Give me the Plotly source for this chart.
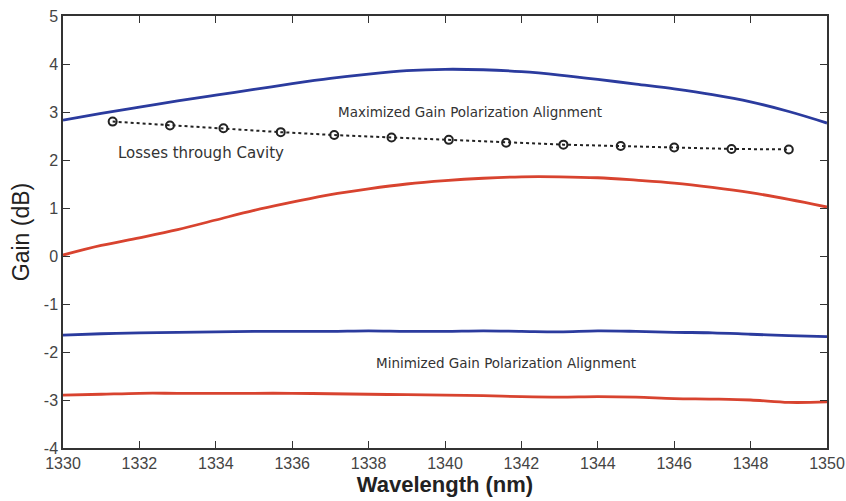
import plotly.graph_objects as go

wl = [1330, 1331, 1332, 1333, 1334, 1335, 1336, 1337, 1338, 1339, 1340,
      1341, 1342, 1343, 1344, 1345, 1346, 1347, 1348, 1349, 1350]

max_blue = [2.83, 2.97, 3.10, 3.23, 3.35, 3.47, 3.59, 3.70, 3.79, 3.86, 3.89,
            3.88, 3.84, 3.77, 3.68, 3.58, 3.48, 3.36, 3.21, 3.01, 2.77]
max_red = [0.02, 0.22, 0.38, 0.55, 0.75, 0.95, 1.12, 1.28, 1.40, 1.50, 1.57,
           1.62, 1.65, 1.65, 1.63, 1.58, 1.52, 1.43, 1.32, 1.18, 1.02]
min_blue = [-1.65, -1.62, -1.60, -1.59, -1.58, -1.57, -1.57, -1.57, -1.56, -1.57, -1.57,
            -1.56, -1.57, -1.58, -1.56, -1.57, -1.59, -1.60, -1.63, -1.66, -1.68]
min_red = [-2.90, -2.88, -2.86, -2.86, -2.86, -2.86, -2.86, -2.87, -2.88, -2.89, -2.90,
           -2.91, -2.93, -2.94, -2.93, -2.94, -2.97, -2.98, -3.00, -3.05, -3.04]

loss_wl = [1331.3, 1332.8, 1334.2, 1335.7, 1337.1, 1338.6, 1340.1,
           1341.6, 1343.1, 1344.6, 1346.0, 1347.5, 1349.0]
loss_gain = [2.80, 2.72, 2.66, 2.58, 2.52, 2.47, 2.42,
             2.36, 2.32, 2.29, 2.26, 2.23, 2.22]

x_ticks = list(range(1330, 1351, 2))
y_ticks = list(range(-4, 6))
y_tick_text = [str(v).replace("−", "-") for v in y_ticks]

BLUE = "#2b3b9e"
RED = "#d8432f"

fig = go.Figure()
for y, c in [(max_blue, BLUE), (max_red, RED), (min_blue, BLUE), (min_red, RED)]:
    fig.add_trace(go.Scatter(x=wl, y=y, mode="lines", line=dict(color=c, width=2.8, shape="spline"),
                             showlegend=False, hoverinfo="skip"))
fig.add_trace(go.Scatter(x=loss_wl, y=loss_gain, mode="lines+markers",
                         line=dict(color="#222222", width=2, dash="dot"),
                         marker=dict(symbol="circle-open", size=8, color="#222222", line=dict(width=2)),
                         showlegend=False))

ann_font = dict(family="DejaVu Sans, sans-serif", size=13.5, color="#333333")
fig.add_annotation(x=1340.65, y=3.0, text="Maximized Gain Polarization Alignment",
                   showarrow=False, font=ann_font)
fig.add_annotation(x=1333.6, y=2.15, text="Losses through Cavity",
                   showarrow=False, font=dict(family="DejaVu Sans, sans-serif", size=15, color="#333333"))
fig.add_annotation(x=1341.6, y=-2.23, text="Minimized Gain Polarization Alignment",
                   showarrow=False, font=ann_font)

axis_common = dict(showgrid=False, zeroline=False, showline=True, linecolor="#333333", linewidth=1.5,
                   mirror="ticks", ticks="inside", ticklen=7, tickcolor="#333333", automargin=False,
                   tickfont=dict(family="Liberation Sans, Arial, sans-serif", size=16, color="#444444"))

fig.update_xaxes(range=[1330, 1350], tickvals=x_ticks, ticktext=[str(v) for v in x_ticks],
                 title=dict(text="<b>Wavelength (nm)</b>", standoff=1,
                            font=dict(family="Liberation Sans, Arial, sans-serif", size=22, color="#222222")),
                 **axis_common)
fig.update_yaxes(range=[-4, 5], tickvals=y_ticks, ticktext=y_tick_text,
                 title=dict(text="Gain (dB)", standoff=8,
                            font=dict(family="Liberation Sans, Arial, sans-serif", size=23, color="#222222")),
                 **axis_common)

fig.update_layout(width=846, height=501, margin=dict(l=63, r=19, t=16, b=53),
                  paper_bgcolor="white", plot_bgcolor="white")
fig.write_html("out.html")
